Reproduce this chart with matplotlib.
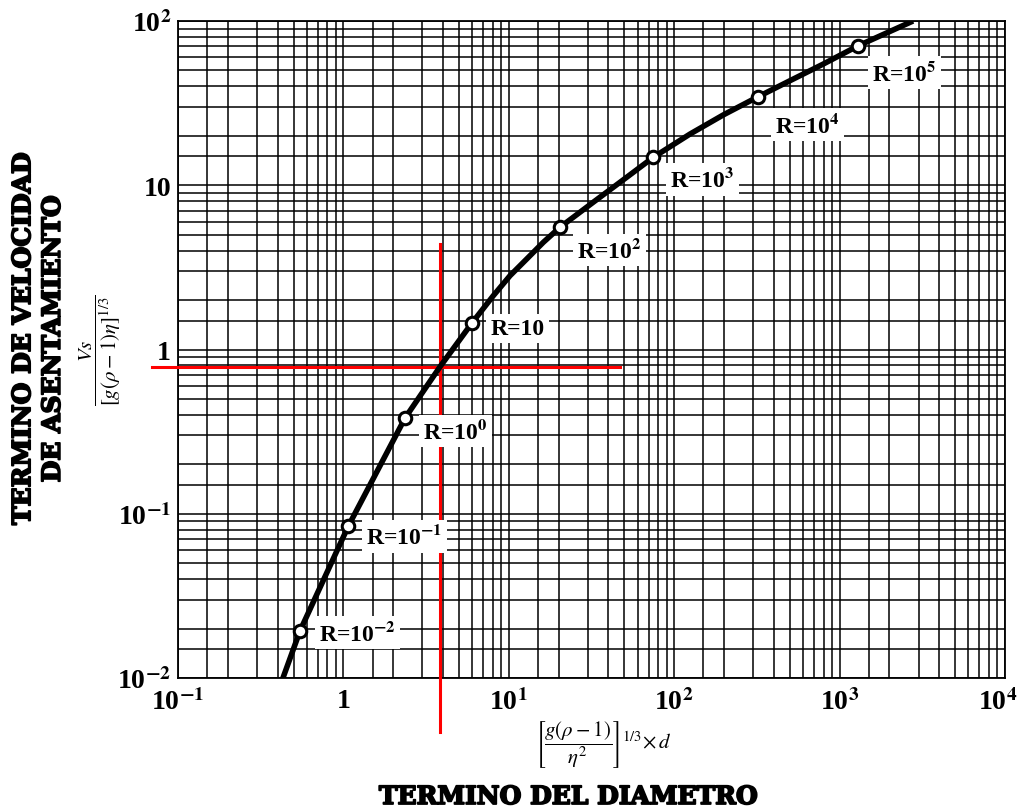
import matplotlib
matplotlib.use("Agg")
import matplotlib.pyplot as plt
import matplotlib.patheffects as pe
from matplotlib.transforms import ScaledTranslation
from matplotlib.ticker import LogLocator, FixedLocator, FixedFormatter, NullFormatter

plt.rcParams['mathtext.fontset'] = 'stix'
plt.rcParams['font.family'] = ['Liberation Serif', 'DejaVu Serif']

# Curve (diameter term, velocity term)
curve_x = [0.431, 0.547, 1.07, 2.36, 3.84, 5.97, 8.06, 10.17, 12.83, 16.17, 20.4, 32.4, 51.6,
           74.8, 124.6, 198, 322, 501, 797, 1297, 2780]
curve_y = [0.010, 0.0194, 0.0839, 0.383, 0.786, 1.444, 2.126, 2.814, 3.556, 4.494, 5.55, 7.88, 11.18,
           14.8, 20.5, 26.8, 34.6, 43.3, 54.7, 70.7, 100]

# Reynolds-number markers
r_x = [0.547, 1.07, 2.36, 5.97, 20.4, 74.8, 322, 1297]
r_y = [0.0194, 0.0839, 0.383, 1.444, 5.55, 14.8, 34.6, 70.7]
r_labels = [r"R=10$^{\mathbf{-2}}$", r"R=10$^{\mathbf{-1}}$", r"R=10$^{\mathbf{0}}$", "R=10",
            r"R=10$^{\mathbf{2}}$", r"R=10$^{\mathbf{3}}$", r"R=10$^{\mathbf{4}}$", r"R=10$^{\mathbf{5}}$"]
r_offsets = [(19, -2), (18, -10), (18, -13), (19, -5), (17, -23), (17, -22), (17, -28), (14, -27)]

# Red reading lines
red_x = 3.84
red_y = 0.786

x_ticks = [0.1, 1, 10, 100, 1000, 10000]
x_ticklabels = [r"10$^{\mathbf{-1}}$", "1", r"10$^{\mathbf{1}}$", r"10$^{\mathbf{2}}$",
                r"10$^{\mathbf{3}}$", r"10$^{\mathbf{4}}$"]
y_ticks = [0.01, 0.1, 1, 10, 100]
y_ticklabels = [r"10$^{\mathbf{-2}}$", r"10$^{\mathbf{-1}}$", "1", "10", r"10$^{\mathbf{2}}$"]

fig = plt.figure(figsize=(10.18, 8.12), dpi=100)
ax = fig.add_axes([178/1018, 1 - 679/812, (1005-178)/1018, (679-22)/812])
ax.set_xscale('log')
ax.set_yscale('log')
ax.set_xlim(0.1, 10000)
ax.set_ylim(0.01, 100)

subs = [1.5, 2, 3, 4, 5, 6, 7, 8, 9]
ax.xaxis.set_minor_locator(LogLocator(base=10, subs=subs, numticks=50))
ax.yaxis.set_minor_locator(LogLocator(base=10, subs=subs, numticks=50))
ax.xaxis.set_minor_formatter(NullFormatter())
ax.yaxis.set_minor_formatter(NullFormatter())
ax.xaxis.set_major_locator(FixedLocator(x_ticks))
ax.xaxis.set_major_formatter(FixedFormatter(x_ticklabels))
ax.yaxis.set_major_locator(FixedLocator(y_ticks))
ax.yaxis.set_major_formatter(FixedFormatter(y_ticklabels))
ax.grid(True, which='both', color='black', linewidth=1.1)
ax.tick_params(which='both', length=0, labelsize=20)
ax.tick_params(axis='x', pad=7)
ax.tick_params(axis='y', pad=5)
for lab in ax.get_xticklabels() + ax.get_yticklabels():
    lab.set_fontweight('bold')
last = ax.get_xticklabels()[-1]
last.set_transform(last.get_transform() + ScaledTranslation(-0.07, 0, fig.dpi_scale_trans))
for s in ax.spines.values():
    s.set_color('black')
    s.set_linewidth(1.3)

ax.plot(curve_x, curve_y, color='black', linewidth=4, solid_capstyle='butt',
        solid_joinstyle='round', zorder=5)
ax.plot(r_x, r_y, linestyle='none', marker='o', markersize=9, markerfacecolor='white',
        markeredgecolor='black', markeredgewidth=2.2, zorder=6)

for x, y, lab, off in zip(r_x, r_y, r_labels, r_offsets):
    ax.annotate(lab, (x, y), xytext=off, textcoords='offset pixels', ha='left', va='center',
                fontsize=17, fontweight='bold', zorder=7,
                bbox=dict(facecolor='white', edgecolor='none', pad=3))

ax.plot([0.0697, 47], [red_y, red_y], color='red', linewidth=2.2, clip_on=False, zorder=4)
ax.plot([red_x, red_x], [0.00469, 4.4], color='red', linewidth=2.2, clip_on=False, zorder=4)

fig.text(603/1018, 1 - 745/812, r"$\left[\dfrac{g(\rho-1)}{\eta^{2}}\right]^{1/3}\!\times d$",
         ha='center', va='center', fontsize=15)
fig.text(100/1018, 1 - 350/812, r"$\dfrac{Vs}{\left[g(\rho-1)\eta\right]^{1/3}}$",
         ha='center', va='center', fontsize=15, rotation=90)

heavy = [pe.withStroke(linewidth=1.3, foreground='black')]
fig.text(568/1018, 1 - 798/812, "TERMINO DEL DIAMETRO", ha='center', va='center',
         fontsize=18, fontweight='bold', family='DejaVu Serif', path_effects=heavy)
fig.text(38/1018, 1 - 340/812, "TERMINO DE VELOCIDAD\nDE ASENTAMIENTO", ha='center', va='center',
         fontsize=18, fontweight='bold', family='DejaVu Serif', rotation=90, linespacing=1.3,
         multialignment='center', path_effects=heavy)

fig.savefig("out.png", dpi=100)
